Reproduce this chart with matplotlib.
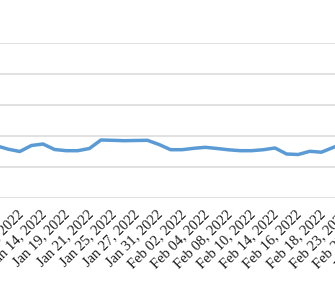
import matplotlib
matplotlib.use("Agg")
import matplotlib.pyplot as plt
import matplotlib.transforms as mtransforms

dates = ["Jan 10, 2022", "Jan 11, 2022", "Jan 12, 2022", "Jan 13, 2022", "Jan 14, 2022",
         "Jan 18, 2022", "Jan 19, 2022", "Jan 20, 2022", "Jan 21, 2022", "Jan 24, 2022",
         "Jan 25, 2022", "Jan 26, 2022", "Jan 27, 2022", "Jan 28, 2022", "Jan 31, 2022",
         "Feb 01, 2022", "Feb 02, 2022", "Feb 03, 2022", "Feb 04, 2022", "Feb 07, 2022",
         "Feb 08, 2022", "Feb 09, 2022", "Feb 10, 2022", "Feb 11, 2022", "Feb 14, 2022",
         "Feb 15, 2022", "Feb 16, 2022", "Feb 17, 2022", "Feb 18, 2022", "Feb 22, 2022",
         "Feb 23, 2022", "Feb 24, 2022", "Feb 25, 2022", "Feb 28, 2022", "Mar 01, 2022"]

values = [16.68, 15.58, 14.84, 16.77, 17.26, 15.48, 15.10, 15.10, 15.81, 18.55,
          18.45, 18.32, 18.39, 18.45, 17.10, 15.42, 15.42, 15.87, 16.19, 15.81,
          15.39, 15.10, 15.10, 15.42, 15.97, 14.03, 13.87, 14.90, 14.61, 16.13,
          17.58]

y_ticks = [0, 10, 20, 30, 40, 50]

W, H = 335, 300
fig = plt.figure(figsize=(W / 100, H / 100), dpi=100)
fig.patch.set_facecolor("white")

step = 11.6
x0_px = -3.4
left_px = x0_px - 0.5 * step
right_px = x0_px + (len(dates) - 0.5) * step
bottom_px = 197.5
top_px = 42.5
ax = fig.add_axes([left_px / W, (H - bottom_px) / H,
                   (right_px - left_px) / W, (bottom_px - top_px) / H])
ax.set_xlim(-0.5, len(dates) - 0.5)
ax.set_ylim(y_ticks[0], y_ticks[-1])

ax.plot(range(len(values)), values, color="#5b9bd5", lw=2.5,
        solid_joinstyle="round", solid_capstyle="round", zorder=3)

ax.set_yticks(y_ticks)
ax.yaxis.grid(True, color="#d9d9d9", lw=1.1)
ax.set_axisbelow(True)
for s in ax.spines.values():
    s.set_visible(False)
ax.tick_params(axis="y", left=False, labelleft=False)

idx = list(range(0, len(dates), 2))
ax.set_xticks(idx)
labels = ax.set_xticklabels([dates[i] for i in idx], rotation=45, ha="right",
                            rotation_mode="anchor", fontsize=10.5,
                            family=["Liberation Serif", "DejaVu Serif"], color="#1a1a1a")
ax.tick_params(axis="x", length=0, pad=7)
offset = mtransforms.ScaledTranslation(-3 / 100, 0, fig.dpi_scale_trans)
for lab in ax.get_xticklabels():
    lab.set_transform(lab.get_transform() + offset)

fig.savefig("out.png", dpi=100, facecolor="white")
